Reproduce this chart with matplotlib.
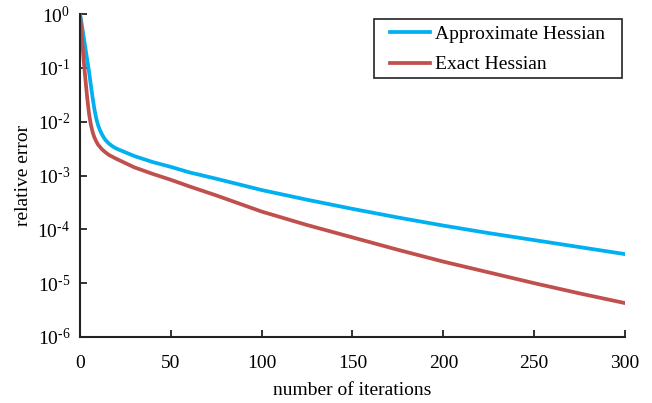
import matplotlib
matplotlib.use("Agg")
import matplotlib.pyplot as plt
import numpy as np
from matplotlib.ticker import FuncFormatter, FixedLocator
from matplotlib.patches import Rectangle

plt.rcParams['font.family'] = ['Liberation Serif', 'DejaVu Serif']
plt.rcParams['mathtext.fontset'] = 'custom'
plt.rcParams['mathtext.rm'] = 'Liberation Serif'

# Approximate Hessian (log10 of relative error)
approx_iter = [0, 1, 2, 3, 4, 5, 6, 7, 8, 9, 10, 11, 12, 13, 14, 16, 18, 20, 25, 30,
               40, 50, 60, 75, 100, 125, 150, 175, 200, 225, 250, 275, 300]
approx_log = [0, -0.2, -0.42, -0.64, -0.86, -1.08, -1.33, -1.57, -1.78, -1.95, -2.07,
              -2.16, -2.23, -2.29, -2.34, -2.41, -2.46, -2.5, -2.57, -2.64, -2.75, -2.84,
              -2.94, -3.06, -3.27, -3.45, -3.62, -3.78, -3.93, -4.07, -4.2, -4.33, -4.46]

# Exact Hessian (log10 of relative error)
exact_iter = [0, 1, 2, 3, 4, 5, 6, 7, 8, 9, 10, 12, 14, 16, 20, 25, 30, 40, 50, 60, 75,
              100, 125, 150, 175, 200, 225, 250, 275, 300]
exact_log = [0, -0.4, -0.85, -1.22, -1.57, -1.86, -2.06, -2.2, -2.3, -2.37, -2.43, -2.51,
             -2.57, -2.62, -2.69, -2.77, -2.85, -2.97, -3.08, -3.2, -3.37, -3.67, -3.92,
             -4.15, -4.38, -4.6, -4.8, -5.0, -5.19, -5.37]

xticks = [0, 50, 100, 150, 200, 250, 300]
yticks_exp = [0, -1, -2, -3, -4, -5, -6]

W, H = 652, 403
FS = 14
fig = plt.figure(figsize=(W / 100, H / 100), dpi=100)
ax = fig.add_axes([80 / W, (H - 337) / H, (625 - 80) / W, (337 - 14) / H])

blue = '#00B0F0'
red = '#C0504D'
ax.plot(approx_iter, 10.0 ** np.array(approx_log), color=blue, lw=2.7,
        label='Approximate Hessian', solid_joinstyle='round')
ax.plot(exact_iter, 10.0 ** np.array(exact_log), color=red, lw=2.7,
        label='Exact Hessian', solid_joinstyle='round')

ax.set_yscale('log')
ax.set_xlim(0, 300)
ax.set_ylim(1e-6, 1e0)
ax.xaxis.set_major_locator(FixedLocator(xticks))
ax.yaxis.set_major_locator(FixedLocator([10.0 ** e for e in yticks_exp]))
ax.yaxis.set_minor_locator(FixedLocator([]))


def fmt(v, p):
    e = int(round(np.log10(v)))
    if e < 0:
        return r'$\mathregular{10^{\text{-}%d}}$' % (-e)
    return r'$\mathregular{10^{%d}}$' % e


ax.yaxis.set_major_formatter(FuncFormatter(fmt))

for s in ['top', 'right']:
    ax.spines[s].set_visible(False)
for s in ['left', 'bottom']:
    ax.spines[s].set_linewidth(1.5)
    ax.spines[s].set_color('#222222')

ax.tick_params(axis='both', direction='in', length=5, width=1.3, labelsize=FS,
               colors='#222222', labelcolor='black')
ax.tick_params(axis='x', pad=13)
ax.tick_params(axis='y', pad=7)

ax.set_xlabel('number of iterations', fontsize=FS, labelpad=7)
ax.set_ylabel('relative error', fontsize=FS, labelpad=4)

leg = ax.legend(loc='upper left', bbox_to_anchor=(390 / W, 1 - 25 / H),
                bbox_transform=fig.transFigure,
                borderaxespad=0, fontsize=FS, frameon=False,
                handlelength=40 / 19.4, handletextpad=0.25,
                labelspacing=0.68, borderpad=0)
fig.add_artist(Rectangle((374 / W, 1 - 78 / H), 248 / W, 59 / H,
                         transform=fig.transFigure, fill=False,
                         edgecolor='#222222', linewidth=1.2))

fig.savefig('out.png', dpi=100)
